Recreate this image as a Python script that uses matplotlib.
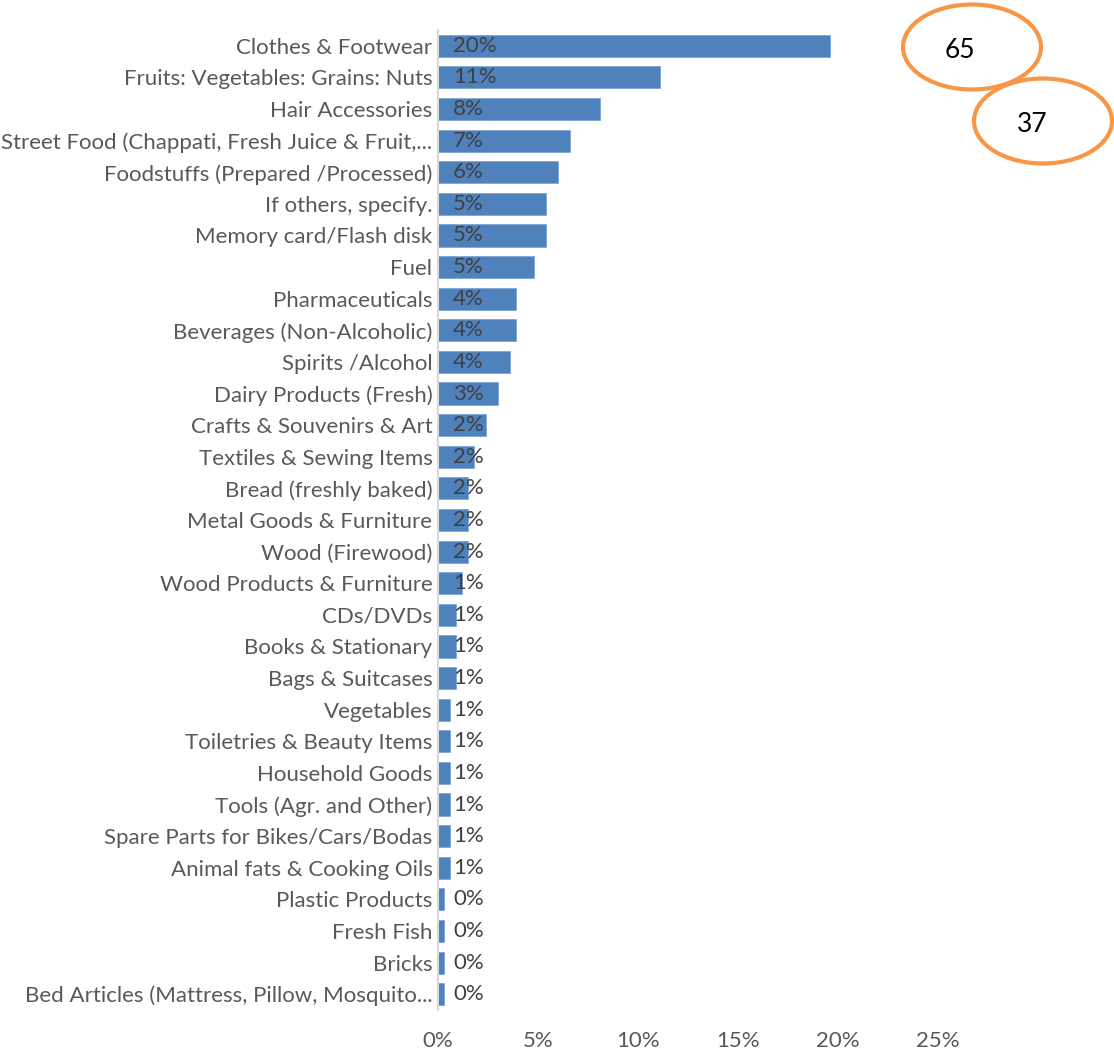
import matplotlib
matplotlib.use("Agg")
import matplotlib.pyplot as plt
from matplotlib.patches import Ellipse
from matplotlib.ticker import FuncFormatter

plt.rcParams['font.family'] = ['Lato', 'DejaVu Sans']

# Share of traders by main product category (%)
categories = [
    "Clothes & Footwear",
    "Fruits: Vegetables: Grains: Nuts",
    "Hair Accessories",
    "Street Food (Chappati, Fresh Juice & Fruit,...",
    "Foodstuffs (Prepared /Processed)",
    "If others, specify.",
    "Memory card/Flash disk",
    "Fuel",
    "Pharmaceuticals",
    "Beverages (Non-Alcoholic)",
    "Spirits /Alcohol",
    "Dairy Products (Fresh)",
    "Crafts & Souvenirs & Art",
    "Textiles & Sewing Items",
    "Bread (freshly baked)",
    "Metal Goods & Furniture",
    "Wood (Firewood)",
    "Wood Products & Furniture",
    "CDs/DVDs",
    "Books & Stationary",
    "Bags & Suitcases",
    "Vegetables",
    "Toiletries & Beauty Items",
    "Household Goods",
    "Tools (Agr. and Other)",
    "Spare Parts for Bikes/Cars/Bodas",
    "Animal fats & Cooking Oils",
    "Plastic Products",
    "Fresh Fish",
    "Bricks",
    "Bed Articles (Mattress, Pillow, Mosquito...",
]
shares = [19.6, 11.1, 8.1, 6.6, 6.0, 5.4, 5.4, 4.8, 3.9, 3.9,
          3.6, 3.0, 2.4, 1.8, 1.51, 1.51, 1.51, 1.2, 0.9, 0.9,
          0.9, 0.6, 0.6, 0.6, 0.6, 0.6, 0.6, 0.3, 0.3, 0.3, 0.3]
xticks = [0, 5, 10, 15, 20, 25]

# counts highlighted for the two largest groups
callouts = ["65", "37"]

bar_color = "#4f81bd"
text_grey = "#595959"
fs = 16

fig = plt.figure(figsize=(11.14, 10.56), dpi=100)
ax = fig.add_axes([438 / 1114, 1 - 1010 / 1056, 500 / 1114, 980 / 1056])

ypos = list(range(len(categories)))
ax.barh(ypos, shares, height=0.7, color=bar_color, edgecolor="#7ea6d8", linewidth=0.6)

# value labels sit at the inside base of each bar
for y, v in zip(ypos, shares):
    ax.text(0.75, y, f"{v:.0f}%", va="center", ha="left", fontsize=fs, color="#404040")

ax.set_xlim(0, 25)
ax.set_ylim(len(categories) - 0.5, -0.5)
ax.set_yticks(ypos)
ax.set_yticklabels(categories, fontsize=fs, color=text_grey)
ax.set_xticks(xticks)
ax.xaxis.set_major_formatter(FuncFormatter(lambda x, p: f"{x:.0f}%"))
ax.tick_params(axis="x", labelsize=fs, labelcolor=text_grey, length=0, pad=15)
ax.tick_params(axis="y", length=0, pad=4)

for side in ["top", "right", "bottom"]:
    ax.spines[side].set_visible(False)
ax.spines["left"].set_color("#d9d9d9")
ax.spines["left"].set_linewidth(1.5)

# orange callout ellipses in the top right corner
for (cx, cy), (tx, ty), label in zip([(972, 47), (1043, 121)], [(960, 50), (1032, 124)], callouts):
    e = Ellipse((cx / 1114, 1 - cy / 1056), 138 / 1114, 85 / 1056,
                transform=fig.transFigure, facecolor="white",
                edgecolor="#f79646", linewidth=3, zorder=5)
    fig.patches.append(e)
    fig.text(tx / 1114, 1 - ty / 1056, label, ha="center", va="center",
             fontsize=19, color="black", zorder=6)

fig.savefig("out.png", dpi=100)
